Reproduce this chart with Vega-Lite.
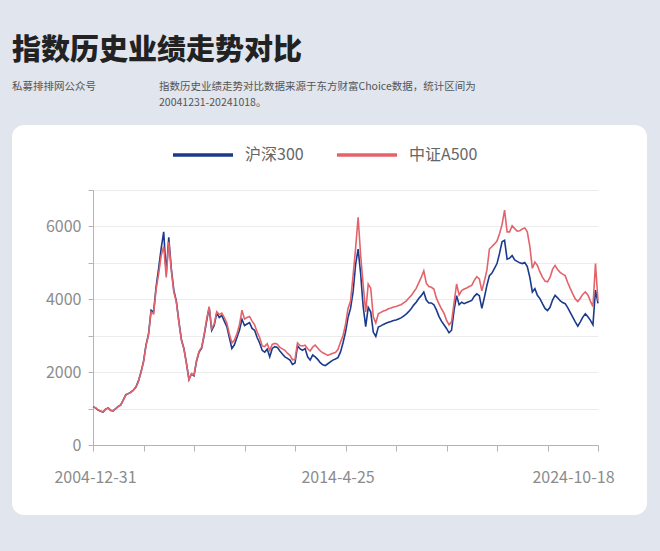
{
  "$schema": "https://vega.github.io/schema/vega-lite/v6.json",
  "width": 635,
  "height": 390,
  "autosize": {"type": "none"},
  "padding": {"left": 12, "top": 125, "right": 13, "bottom": 36},
  "background": "#e0e5ee",
  "view": {"fill": "#ffffff", "stroke": null, "cornerRadius": 12},
  "config": {"font": "Noto Sans CJK SC"},
  "title": {
    "text": "指数历史业绩走势对比",
    "subtitle": [
      "私募排排网公众号　　　　　　指数历史业绩走势对比数据来源于东方财富Choice数据，统计区间为",
      "\u200b　　　　　　　　　　　　　　20041231-20241018。"
    ],
    "anchor": "start",
    "frame": "group",
    "offset": 15,
    "fontSize": 29,
    "fontWeight": 900,
    "color": "#222222",
    "subtitleFontSize": 10.5,
    "subtitleColor": "#555555",
    "subtitlePadding": 16,
    "subtitleLineHeight": 16
  },
  "data": {
    "values": [
      {"d": "2004-12-31", "s": "沪深300", "v": 1050},
      {"d": "2005-1-25", "s": "沪深300", "v": 1020},
      {"d": "2005-2-25", "s": "沪深300", "v": 960},
      {"d": "2005-3-25", "s": "沪深300", "v": 925},
      {"d": "2005-4-25", "s": "沪深300", "v": 905},
      {"d": "2005-6-25", "s": "沪深300", "v": 985},
      {"d": "2005-7-25", "s": "沪深300", "v": 1015},
      {"d": "2005-8-25", "s": "沪深300", "v": 950},
      {"d": "2005-9-25", "s": "沪深300", "v": 935},
      {"d": "2005-10-25", "s": "沪深300", "v": 1000},
      {"d": "2005-11-25", "s": "沪深300", "v": 1060},
      {"d": "2005-12-25", "s": "沪深300", "v": 1100},
      {"d": "2006-1-25", "s": "沪深300", "v": 1240},
      {"d": "2006-3-25", "s": "沪深300", "v": 1380},
      {"d": "2006-4-25", "s": "沪深300", "v": 1410},
      {"d": "2006-5-25", "s": "沪深300", "v": 1450},
      {"d": "2006-6-25", "s": "沪深300", "v": 1510},
      {"d": "2006-7-25", "s": "沪深300", "v": 1590},
      {"d": "2006-8-25", "s": "沪深300", "v": 1760},
      {"d": "2006-9-25", "s": "沪深300", "v": 2000},
      {"d": "2006-10-25", "s": "沪深300", "v": 2290},
      {"d": "2006-12-25", "s": "沪深300", "v": 2750},
      {"d": "2007-1-25", "s": "沪深300", "v": 3050},
      {"d": "2007-2-25", "s": "沪深300", "v": 3700},
      {"d": "2007-3-25", "s": "沪深300", "v": 3650},
      {"d": "2007-4-25", "s": "沪深300", "v": 4350},
      {"d": "2007-5-25", "s": "沪深300", "v": 4850},
      {"d": "2007-6-25", "s": "沪深300", "v": 5400},
      {"d": "2007-7-25", "s": "沪深300", "v": 5850},
      {"d": "2007-8-25", "s": "沪深300", "v": 4700},
      {"d": "2007-10-25", "s": "沪深300", "v": 5700},
      {"d": "2007-11-25", "s": "沪深300", "v": 4850},
      {"d": "2007-12-25", "s": "沪深300", "v": 4250},
      {"d": "2008-1-25", "s": "沪深300", "v": 3950},
      {"d": "2008-2-25", "s": "沪深300", "v": 3400},
      {"d": "2008-3-25", "s": "沪深300", "v": 2900},
      {"d": "2008-4-25", "s": "沪深300", "v": 2650},
      {"d": "2008-5-25", "s": "沪深300", "v": 2250},
      {"d": "2008-7-25", "s": "沪深300", "v": 1800},
      {"d": "2008-8-25", "s": "沪深300", "v": 1950},
      {"d": "2008-9-25", "s": "沪深300", "v": 1900},
      {"d": "2008-10-25", "s": "沪深300", "v": 2300},
      {"d": "2008-11-25", "s": "沪深300", "v": 2550},
      {"d": "2008-12-25", "s": "沪深300", "v": 2650},
      {"d": "2009-1-25", "s": "沪深300", "v": 3000},
      {"d": "2009-2-25", "s": "沪深300", "v": 3400},
      {"d": "2009-4-25", "s": "沪深300", "v": 3780},
      {"d": "2009-5-25", "s": "沪深300", "v": 3150},
      {"d": "2009-6-25", "s": "沪深300", "v": 3280},
      {"d": "2009-7-25", "s": "沪深300", "v": 3620},
      {"d": "2009-8-25", "s": "沪深300", "v": 3500},
      {"d": "2009-9-25", "s": "沪深300", "v": 3560},
      {"d": "2009-10-25", "s": "沪深300", "v": 3400},
      {"d": "2009-11-25", "s": "沪深300", "v": 3250},
      {"d": "2009-12-25", "s": "沪深300", "v": 2950},
      {"d": "2010-2-25", "s": "沪深300", "v": 2650},
      {"d": "2010-3-25", "s": "沪深300", "v": 2750},
      {"d": "2010-4-25", "s": "沪深300", "v": 2950},
      {"d": "2010-5-25", "s": "沪深300", "v": 3150},
      {"d": "2010-6-25", "s": "沪深300", "v": 3450},
      {"d": "2010-7-25", "s": "沪深300", "v": 3280},
      {"d": "2010-8-25", "s": "沪深300", "v": 3320},
      {"d": "2010-9-25", "s": "沪深300", "v": 3360},
      {"d": "2010-11-25", "s": "沪深300", "v": 3200},
      {"d": "2010-12-25", "s": "沪深300", "v": 3150},
      {"d": "2011-1-25", "s": "沪深300", "v": 2950},
      {"d": "2011-2-25", "s": "沪深300", "v": 2800},
      {"d": "2011-3-25", "s": "沪深300", "v": 2600},
      {"d": "2011-4-25", "s": "沪深300", "v": 2550},
      {"d": "2011-5-25", "s": "沪深300", "v": 2630},
      {"d": "2011-6-25", "s": "沪深300", "v": 2420},
      {"d": "2011-8-25", "s": "沪深300", "v": 2650},
      {"d": "2011-9-25", "s": "沪深300", "v": 2700},
      {"d": "2011-10-25", "s": "沪深300", "v": 2680},
      {"d": "2011-11-25", "s": "沪深300", "v": 2580},
      {"d": "2011-12-25", "s": "沪深300", "v": 2500},
      {"d": "2012-1-25", "s": "沪深300", "v": 2420},
      {"d": "2012-2-25", "s": "沪深300", "v": 2380},
      {"d": "2012-3-25", "s": "沪深300", "v": 2330},
      {"d": "2012-4-25", "s": "沪深300", "v": 2210},
      {"d": "2012-6-25", "s": "沪深300", "v": 2250},
      {"d": "2012-7-25", "s": "沪深300", "v": 2720},
      {"d": "2012-8-25", "s": "沪深300", "v": 2640},
      {"d": "2012-9-25", "s": "沪深300", "v": 2600},
      {"d": "2012-10-25", "s": "沪深300", "v": 2650},
      {"d": "2012-11-25", "s": "沪深300", "v": 2420},
      {"d": "2012-12-25", "s": "沪深300", "v": 2330},
      {"d": "2013-1-25", "s": "沪深300", "v": 2470},
      {"d": "2013-3-25", "s": "沪深300", "v": 2420},
      {"d": "2013-4-25", "s": "沪深300", "v": 2350},
      {"d": "2013-5-25", "s": "沪深300", "v": 2260},
      {"d": "2013-6-25", "s": "沪深300", "v": 2200},
      {"d": "2013-7-25", "s": "沪深300", "v": 2180},
      {"d": "2013-8-25", "s": "沪深300", "v": 2230},
      {"d": "2013-9-25", "s": "沪深300", "v": 2280},
      {"d": "2013-10-25", "s": "沪深300", "v": 2330},
      {"d": "2013-12-25", "s": "沪深300", "v": 2360},
      {"d": "2014-1-25", "s": "沪深300", "v": 2400},
      {"d": "2014-2-25", "s": "沪深300", "v": 2550},
      {"d": "2014-3-25", "s": "沪深300", "v": 2800},
      {"d": "2014-4-25", "s": "沪深300", "v": 3100},
      {"d": "2014-5-18", "s": "沪深300", "v": 3500},
      {"d": "2014-7-18", "s": "沪深300", "v": 3750},
      {"d": "2014-8-18", "s": "沪深300", "v": 4200},
      {"d": "2014-9-18", "s": "沪深300", "v": 4950},
      {"d": "2014-10-18", "s": "沪深300", "v": 5380},
      {"d": "2014-12-18", "s": "沪深300", "v": 4700},
      {"d": "2015-1-18", "s": "沪深300", "v": 3800},
      {"d": "2015-2-18", "s": "沪深300", "v": 3250},
      {"d": "2015-3-18", "s": "沪深300", "v": 3780},
      {"d": "2015-5-18", "s": "沪深300", "v": 3650},
      {"d": "2015-6-18", "s": "沪深300", "v": 3100},
      {"d": "2015-7-18", "s": "沪深300", "v": 2980},
      {"d": "2015-8-18", "s": "沪深300", "v": 3240},
      {"d": "2015-10-18", "s": "沪深300", "v": 3270},
      {"d": "2015-11-18", "s": "沪深300", "v": 3310},
      {"d": "2015-12-18", "s": "沪深300", "v": 3340},
      {"d": "2016-1-18", "s": "沪深300", "v": 3370},
      {"d": "2016-3-18", "s": "沪深300", "v": 3390},
      {"d": "2016-4-18", "s": "沪深300", "v": 3420},
      {"d": "2016-5-18", "s": "沪深300", "v": 3430},
      {"d": "2016-6-18", "s": "沪深300", "v": 3460},
      {"d": "2016-8-18", "s": "沪深300", "v": 3490},
      {"d": "2016-9-18", "s": "沪深300", "v": 3540},
      {"d": "2016-10-18", "s": "沪深300", "v": 3590},
      {"d": "2016-12-18", "s": "沪深300", "v": 3660},
      {"d": "2017-1-18", "s": "沪深300", "v": 3740},
      {"d": "2017-2-18", "s": "沪深300", "v": 3840},
      {"d": "2017-3-18", "s": "沪深300", "v": 3920},
      {"d": "2017-5-18", "s": "沪深300", "v": 4020},
      {"d": "2017-6-18", "s": "沪深300", "v": 4100},
      {"d": "2017-7-18", "s": "沪深300", "v": 4200},
      {"d": "2017-8-18", "s": "沪深300", "v": 3980},
      {"d": "2017-10-18", "s": "沪深300", "v": 3900},
      {"d": "2017-11-18", "s": "沪深300", "v": 3900},
      {"d": "2017-12-18", "s": "沪深300", "v": 3850},
      {"d": "2018-1-18", "s": "沪深300", "v": 3710},
      {"d": "2018-3-18", "s": "沪深300", "v": 3530},
      {"d": "2018-4-18", "s": "沪深300", "v": 3400},
      {"d": "2018-5-18", "s": "沪深300", "v": 3300},
      {"d": "2018-6-18", "s": "沪深300", "v": 3200},
      {"d": "2018-8-18", "s": "沪深300", "v": 3080},
      {"d": "2018-9-18", "s": "沪深300", "v": 3150},
      {"d": "2018-10-18", "s": "沪深300", "v": 3700},
      {"d": "2018-11-18", "s": "沪深300", "v": 4100},
      {"d": "2019-1-18", "s": "沪深300", "v": 3850},
      {"d": "2019-2-18", "s": "沪深300", "v": 3920},
      {"d": "2019-3-18", "s": "沪深300", "v": 3880},
      {"d": "2019-4-18", "s": "沪深300", "v": 3910},
      {"d": "2019-6-18", "s": "沪深300", "v": 3940},
      {"d": "2019-7-18", "s": "沪深300", "v": 3970},
      {"d": "2019-8-18", "s": "沪深300", "v": 4080},
      {"d": "2019-10-18", "s": "沪深300", "v": 4150},
      {"d": "2019-11-18", "s": "沪深300", "v": 4100},
      {"d": "2019-12-18", "s": "沪深300", "v": 3750},
      {"d": "2020-1-18", "s": "沪深300", "v": 4050},
      {"d": "2020-3-18", "s": "沪深300", "v": 4380},
      {"d": "2020-4-18", "s": "沪深300", "v": 4650},
      {"d": "2020-5-18", "s": "沪深300", "v": 4720},
      {"d": "2020-6-18", "s": "沪深300", "v": 4850},
      {"d": "2020-8-18", "s": "沪深300", "v": 4980},
      {"d": "2020-9-18", "s": "沪深300", "v": 5260},
      {"d": "2020-10-18", "s": "沪深300", "v": 5580},
      {"d": "2020-11-18", "s": "沪深300", "v": 5620},
      {"d": "2021-1-18", "s": "沪深300", "v": 5100},
      {"d": "2021-2-18", "s": "沪深300", "v": 5130},
      {"d": "2021-3-18", "s": "沪深300", "v": 5200},
      {"d": "2021-4-18", "s": "沪深300", "v": 5080},
      {"d": "2021-6-18", "s": "沪深300", "v": 5040},
      {"d": "2021-7-18", "s": "沪深300", "v": 5000},
      {"d": "2021-8-18", "s": "沪深300", "v": 4980},
      {"d": "2021-9-18", "s": "沪深300", "v": 5010},
      {"d": "2021-11-18", "s": "沪深300", "v": 4900},
      {"d": "2021-12-18", "s": "沪深300", "v": 4600},
      {"d": "2022-1-18", "s": "沪深300", "v": 4200},
      {"d": "2022-3-18", "s": "沪深300", "v": 4290},
      {"d": "2022-4-18", "s": "沪深300", "v": 4110},
      {"d": "2022-5-18", "s": "沪深300", "v": 4020},
      {"d": "2022-6-18", "s": "沪深300", "v": 3880},
      {"d": "2022-8-18", "s": "沪深300", "v": 3750},
      {"d": "2022-9-18", "s": "沪深300", "v": 3690},
      {"d": "2022-10-18", "s": "沪深300", "v": 3780},
      {"d": "2022-11-18", "s": "沪深300", "v": 3980},
      {"d": "2023-1-18", "s": "沪深300", "v": 4110},
      {"d": "2023-2-18", "s": "沪深300", "v": 4040},
      {"d": "2023-3-18", "s": "沪深300", "v": 3960},
      {"d": "2023-4-18", "s": "沪深300", "v": 3910},
      {"d": "2023-6-18", "s": "沪深300", "v": 3880},
      {"d": "2023-7-18", "s": "沪深300", "v": 3770},
      {"d": "2023-8-18", "s": "沪深300", "v": 3640},
      {"d": "2023-9-18", "s": "沪深300", "v": 3510},
      {"d": "2023-11-18", "s": "沪深300", "v": 3380},
      {"d": "2023-12-18", "s": "沪深300", "v": 3260},
      {"d": "2024-1-18", "s": "沪深300", "v": 3380},
      {"d": "2024-2-18", "s": "沪深300", "v": 3510},
      {"d": "2024-4-18", "s": "沪深300", "v": 3600},
      {"d": "2024-5-18", "s": "沪深300", "v": 3520},
      {"d": "2024-6-18", "s": "沪深300", "v": 3420},
      {"d": "2024-7-18", "s": "沪深300", "v": 3300},
      {"d": "2024-9-18", "s": "沪深300", "v": 4250},
      {"d": "2024-10-18", "s": "沪深300", "v": 3890},
      {"d": "2004-12-31", "s": "中证A500", "v": 1050},
      {"d": "2005-1-25", "s": "中证A500", "v": 1025},
      {"d": "2005-2-25", "s": "中证A500", "v": 965},
      {"d": "2005-3-25", "s": "中证A500", "v": 930},
      {"d": "2005-4-25", "s": "中证A500", "v": 910},
      {"d": "2005-6-25", "s": "中证A500", "v": 985},
      {"d": "2005-7-25", "s": "中证A500", "v": 1010},
      {"d": "2005-8-25", "s": "中证A500", "v": 955},
      {"d": "2005-9-25", "s": "中证A500", "v": 940},
      {"d": "2005-10-25", "s": "中证A500", "v": 995},
      {"d": "2005-11-25", "s": "中证A500", "v": 1055},
      {"d": "2005-12-25", "s": "中证A500", "v": 1095},
      {"d": "2006-1-25", "s": "中证A500", "v": 1230},
      {"d": "2006-3-25", "s": "中证A500", "v": 1370},
      {"d": "2006-4-25", "s": "中证A500", "v": 1410},
      {"d": "2006-5-25", "s": "中证A500", "v": 1440},
      {"d": "2006-6-25", "s": "中证A500", "v": 1500},
      {"d": "2006-7-25", "s": "中证A500", "v": 1580},
      {"d": "2006-8-25", "s": "中证A500", "v": 1750},
      {"d": "2006-9-25", "s": "中证A500", "v": 1990},
      {"d": "2006-10-25", "s": "中证A500", "v": 2280},
      {"d": "2006-12-25", "s": "中证A500", "v": 2730},
      {"d": "2007-1-25", "s": "中证A500", "v": 3020},
      {"d": "2007-2-25", "s": "中证A500", "v": 3650},
      {"d": "2007-3-25", "s": "中证A500", "v": 3600},
      {"d": "2007-4-25", "s": "中证A500", "v": 4280},
      {"d": "2007-5-25", "s": "中证A500", "v": 4700},
      {"d": "2007-6-25", "s": "中证A500", "v": 5200},
      {"d": "2007-7-25", "s": "中证A500", "v": 5450},
      {"d": "2007-8-25", "s": "中证A500", "v": 4600},
      {"d": "2007-10-25", "s": "中证A500", "v": 5580},
      {"d": "2007-11-25", "s": "中证A500", "v": 4800},
      {"d": "2007-12-25", "s": "中证A500", "v": 4200},
      {"d": "2008-1-25", "s": "中证A500", "v": 3930},
      {"d": "2008-2-25", "s": "中证A500", "v": 3380},
      {"d": "2008-3-25", "s": "中证A500", "v": 2880},
      {"d": "2008-4-25", "s": "中证A500", "v": 2640},
      {"d": "2008-5-25", "s": "中证A500", "v": 2240},
      {"d": "2008-7-25", "s": "中证A500", "v": 1790},
      {"d": "2008-8-25", "s": "中证A500", "v": 1960},
      {"d": "2008-9-25", "s": "中证A500", "v": 1920},
      {"d": "2008-10-25", "s": "中证A500", "v": 2320},
      {"d": "2008-11-25", "s": "中证A500", "v": 2570},
      {"d": "2008-12-25", "s": "中证A500", "v": 2680},
      {"d": "2009-1-25", "s": "中证A500", "v": 3030},
      {"d": "2009-2-25", "s": "中证A500", "v": 3450},
      {"d": "2009-4-25", "s": "中证A500", "v": 3800},
      {"d": "2009-5-25", "s": "中证A500", "v": 3200},
      {"d": "2009-6-25", "s": "中证A500", "v": 3320},
      {"d": "2009-7-25", "s": "中证A500", "v": 3660},
      {"d": "2009-8-25", "s": "中证A500", "v": 3580},
      {"d": "2009-9-25", "s": "中证A500", "v": 3620},
      {"d": "2009-10-25", "s": "中证A500", "v": 3500},
      {"d": "2009-11-25", "s": "中证A500", "v": 3350},
      {"d": "2009-12-25", "s": "中证A500", "v": 3050},
      {"d": "2010-2-25", "s": "中证A500", "v": 2800},
      {"d": "2010-3-25", "s": "中证A500", "v": 2880},
      {"d": "2010-4-25", "s": "中证A500", "v": 3050},
      {"d": "2010-5-25", "s": "中证A500", "v": 3300},
      {"d": "2010-6-25", "s": "中证A500", "v": 3700},
      {"d": "2010-7-25", "s": "中证A500", "v": 3460},
      {"d": "2010-8-25", "s": "中证A500", "v": 3500},
      {"d": "2010-9-25", "s": "中证A500", "v": 3530},
      {"d": "2010-11-25", "s": "中证A500", "v": 3400},
      {"d": "2010-12-25", "s": "中证A500", "v": 3300},
      {"d": "2011-1-25", "s": "中证A500", "v": 3100},
      {"d": "2011-2-25", "s": "中证A500", "v": 2950},
      {"d": "2011-3-25", "s": "中证A500", "v": 2720},
      {"d": "2011-4-25", "s": "中证A500", "v": 2700},
      {"d": "2011-5-25", "s": "中证A500", "v": 2780},
      {"d": "2011-6-25", "s": "中证A500", "v": 2600},
      {"d": "2011-8-25", "s": "中证A500", "v": 2760},
      {"d": "2011-9-25", "s": "中证A500", "v": 2790},
      {"d": "2011-10-25", "s": "中证A500", "v": 2770},
      {"d": "2011-11-25", "s": "中证A500", "v": 2680},
      {"d": "2011-12-25", "s": "中证A500", "v": 2640},
      {"d": "2012-1-25", "s": "中证A500", "v": 2600},
      {"d": "2012-2-25", "s": "中证A500", "v": 2520},
      {"d": "2012-3-25", "s": "中证A500", "v": 2460},
      {"d": "2012-4-25", "s": "中证A500", "v": 2340},
      {"d": "2012-6-25", "s": "中证A500", "v": 2350},
      {"d": "2012-7-25", "s": "中证A500", "v": 2800},
      {"d": "2012-8-25", "s": "中证A500", "v": 2730},
      {"d": "2012-9-25", "s": "中证A500", "v": 2720},
      {"d": "2012-10-25", "s": "中证A500", "v": 2740},
      {"d": "2012-11-25", "s": "中证A500", "v": 2640},
      {"d": "2012-12-25", "s": "中证A500", "v": 2580},
      {"d": "2013-1-25", "s": "中证A500", "v": 2690},
      {"d": "2013-3-25", "s": "中证A500", "v": 2740},
      {"d": "2013-4-25", "s": "中证A500", "v": 2660},
      {"d": "2013-5-25", "s": "中证A500", "v": 2580},
      {"d": "2013-6-25", "s": "中证A500", "v": 2530},
      {"d": "2013-7-25", "s": "中证A500", "v": 2500},
      {"d": "2013-8-25", "s": "中证A500", "v": 2460},
      {"d": "2013-9-25", "s": "中证A500", "v": 2490},
      {"d": "2013-10-25", "s": "中证A500", "v": 2520},
      {"d": "2013-12-25", "s": "中证A500", "v": 2540},
      {"d": "2014-1-25", "s": "中证A500", "v": 2620},
      {"d": "2014-2-25", "s": "中证A500", "v": 2820},
      {"d": "2014-3-25", "s": "中证A500", "v": 3000},
      {"d": "2014-4-25", "s": "中证A500", "v": 3300},
      {"d": "2014-5-18", "s": "中证A500", "v": 3750},
      {"d": "2014-7-18", "s": "中证A500", "v": 3950},
      {"d": "2014-8-18", "s": "中证A500", "v": 4650},
      {"d": "2014-9-18", "s": "中证A500", "v": 5400},
      {"d": "2014-10-18", "s": "中证A500", "v": 6250},
      {"d": "2014-12-18", "s": "中证A500", "v": 5200},
      {"d": "2015-1-18", "s": "中证A500", "v": 4400},
      {"d": "2015-2-18", "s": "中证A500", "v": 3650},
      {"d": "2015-3-18", "s": "中证A500", "v": 4420},
      {"d": "2015-5-18", "s": "中证A500", "v": 4300},
      {"d": "2015-6-18", "s": "中证A500", "v": 3520},
      {"d": "2015-7-18", "s": "中证A500", "v": 3350},
      {"d": "2015-8-18", "s": "中证A500", "v": 3600},
      {"d": "2015-10-18", "s": "中证A500", "v": 3640},
      {"d": "2015-11-18", "s": "中证A500", "v": 3680},
      {"d": "2015-12-18", "s": "中证A500", "v": 3700},
      {"d": "2016-1-18", "s": "中证A500", "v": 3740},
      {"d": "2016-3-18", "s": "中证A500", "v": 3760},
      {"d": "2016-4-18", "s": "中证A500", "v": 3790},
      {"d": "2016-5-18", "s": "中证A500", "v": 3800},
      {"d": "2016-6-18", "s": "中证A500", "v": 3830},
      {"d": "2016-8-18", "s": "中证A500", "v": 3850},
      {"d": "2016-9-18", "s": "中证A500", "v": 3900},
      {"d": "2016-10-18", "s": "中证A500", "v": 3950},
      {"d": "2016-12-18", "s": "中证A500", "v": 4030},
      {"d": "2017-1-18", "s": "中证A500", "v": 4100},
      {"d": "2017-2-18", "s": "中证A500", "v": 4200},
      {"d": "2017-3-18", "s": "中证A500", "v": 4300},
      {"d": "2017-5-18", "s": "中证A500", "v": 4450},
      {"d": "2017-6-18", "s": "中证A500", "v": 4600},
      {"d": "2017-7-18", "s": "中证A500", "v": 4780},
      {"d": "2017-8-18", "s": "中证A500", "v": 4440},
      {"d": "2017-10-18", "s": "中证A500", "v": 4350},
      {"d": "2017-11-18", "s": "中证A500", "v": 4330},
      {"d": "2017-12-18", "s": "中证A500", "v": 4280},
      {"d": "2018-1-18", "s": "中证A500", "v": 4030},
      {"d": "2018-3-18", "s": "中证A500", "v": 3880},
      {"d": "2018-4-18", "s": "中证A500", "v": 3740},
      {"d": "2018-5-18", "s": "中证A500", "v": 3620},
      {"d": "2018-6-18", "s": "中证A500", "v": 3430},
      {"d": "2018-8-18", "s": "中证A500", "v": 3300},
      {"d": "2018-9-18", "s": "中证A500", "v": 3380},
      {"d": "2018-10-18", "s": "中证A500", "v": 3900},
      {"d": "2018-11-18", "s": "中证A500", "v": 4420},
      {"d": "2019-1-18", "s": "中证A500", "v": 4120},
      {"d": "2019-2-18", "s": "中证A500", "v": 4240},
      {"d": "2019-3-18", "s": "中证A500", "v": 4280},
      {"d": "2019-4-18", "s": "中证A500", "v": 4310},
      {"d": "2019-6-18", "s": "中证A500", "v": 4350},
      {"d": "2019-7-18", "s": "中证A500", "v": 4380},
      {"d": "2019-8-18", "s": "中证A500", "v": 4520},
      {"d": "2019-10-18", "s": "中证A500", "v": 4620},
      {"d": "2019-11-18", "s": "中证A500", "v": 4560},
      {"d": "2019-12-18", "s": "中证A500", "v": 4230},
      {"d": "2020-1-18", "s": "中证A500", "v": 4500},
      {"d": "2020-3-18", "s": "中证A500", "v": 4800},
      {"d": "2020-4-18", "s": "中证A500", "v": 5380},
      {"d": "2020-5-18", "s": "中证A500", "v": 5450},
      {"d": "2020-6-18", "s": "中证A500", "v": 5520},
      {"d": "2020-8-18", "s": "中证A500", "v": 5600},
      {"d": "2020-9-18", "s": "中证A500", "v": 5800},
      {"d": "2020-10-18", "s": "中证A500", "v": 6050},
      {"d": "2020-11-18", "s": "中证A500", "v": 6450},
      {"d": "2021-1-18", "s": "中证A500", "v": 5850},
      {"d": "2021-2-18", "s": "中证A500", "v": 5850},
      {"d": "2021-3-18", "s": "中证A500", "v": 6020},
      {"d": "2021-4-18", "s": "中证A500", "v": 5940},
      {"d": "2021-6-18", "s": "中证A500", "v": 5870},
      {"d": "2021-7-18", "s": "中证A500", "v": 5880},
      {"d": "2021-8-18", "s": "中证A500", "v": 5930},
      {"d": "2021-9-18", "s": "中证A500", "v": 5960},
      {"d": "2021-11-18", "s": "中证A500", "v": 5850},
      {"d": "2021-12-18", "s": "中证A500", "v": 5450},
      {"d": "2022-1-18", "s": "中证A500", "v": 4850},
      {"d": "2022-3-18", "s": "中证A500", "v": 5020},
      {"d": "2022-4-18", "s": "中证A500", "v": 4930},
      {"d": "2022-5-18", "s": "中证A500", "v": 4750},
      {"d": "2022-6-18", "s": "中证A500", "v": 4610},
      {"d": "2022-8-18", "s": "中证A500", "v": 4500},
      {"d": "2022-9-18", "s": "中证A500", "v": 4480},
      {"d": "2022-10-18", "s": "中证A500", "v": 4600},
      {"d": "2022-11-18", "s": "中证A500", "v": 4820},
      {"d": "2023-1-18", "s": "中证A500", "v": 4930},
      {"d": "2023-2-18", "s": "中证A500", "v": 4820},
      {"d": "2023-3-18", "s": "中证A500", "v": 4740},
      {"d": "2023-4-18", "s": "中证A500", "v": 4690},
      {"d": "2023-6-18", "s": "中证A500", "v": 4650},
      {"d": "2023-7-18", "s": "中证A500", "v": 4460},
      {"d": "2023-8-18", "s": "中证A500", "v": 4300},
      {"d": "2023-9-18", "s": "中证A500", "v": 4150},
      {"d": "2023-11-18", "s": "中证A500", "v": 4010},
      {"d": "2023-12-18", "s": "中证A500", "v": 3940},
      {"d": "2024-1-18", "s": "中证A500", "v": 4030},
      {"d": "2024-2-18", "s": "中证A500", "v": 4140},
      {"d": "2024-4-18", "s": "中证A500", "v": 4200},
      {"d": "2024-5-18", "s": "中证A500", "v": 4120},
      {"d": "2024-6-18", "s": "中证A500", "v": 3950},
      {"d": "2024-7-18", "s": "中证A500", "v": 3800},
      {"d": "2024-9-18", "s": "中证A500", "v": 4980},
      {"d": "2024-10-18", "s": "中证A500", "v": 3960}
    ]
  },
  "mark": {"type": "line", "strokeWidth": 1.6},
  "encoding": {
    "x": {
      "field": "d",
      "type": "ordinal",
      "sort": null,
      "scale": {"type": "point", "range": [81, 586], "padding": 0},
      "axis": {
        "orient": "bottom",
        "offset": -70,
        "values": ["2004-12-31", "2006-10-25", "2008-9-25", "2010-7-25", "2012-6-25", "2014-4-25", "2016-5-18", "2018-6-18", "2020-8-18", "2022-9-18", "2024-10-18"],
        "labelExpr": "indexof(['2004-12-31', '2014-4-25', '2024-10-18'], datum.value) >= 0 ? datum.value : ''",
        "labelOffset": {
          "condition": [
            {"test": "datum.value === '2024-10-18'", "value": -25},
            {"test": "datum.value === '2014-4-25'", "value": -8}
          ],
          "value": 2
        },
        "labelAngle": 0,
        "labelOverlap": false,
        "labelBound": false,
        "title": null,
        "grid": false,
        "domainColor": "#b4b4b4",
        "tickColor": "#b4b4b4",
        "tickSize": 6,
        "labelColor": "#8c8c8c",
        "labelFontSize": 16,
        "labelPadding": 18
      }
    },
    "y": {
      "field": "v",
      "type": "quantitative",
      "scale": {"domain": [0, 7000], "range": [320, 65], "nice": false},
      "axis": {
        "orient": "left",
        "offset": -81,
        "values": [0, 1000, 2000, 3000, 4000, 5000, 6000, 7000],
        "format": "d",
        "labelExpr": "datum.value % 2000 === 0 ? datum.label : ''",
        "title": null,
        "domainColor": "#b4b4b4",
        "tickColor": "#b4b4b4",
        "tickSize": 5,
        "gridColor": "#ececec",
        "labelColor": "#8c8c8c",
        "labelFontSize": 16,
        "labelPadding": 7
      }
    },
    "color": {
      "field": "s",
      "type": "nominal",
      "scale": {"domain": ["沪深300", "中证A500"], "range": ["#1b3a8c", "#e4636a"]},
      "legend": {
        "orient": "none",
        "legendX": 159,
        "legendY": -2,
        "direction": "horizontal",
        "title": null,
        "symbolType": "stroke",
        "symbolSize": 3600,
        "symbolStrokeWidth": 3.5,
        "labelFontSize": 16,
        "labelColor": "#666666",
        "labelOffset": 10,
        "columnPadding": 26,
        "padding": 0
      }
    }
  }
}
